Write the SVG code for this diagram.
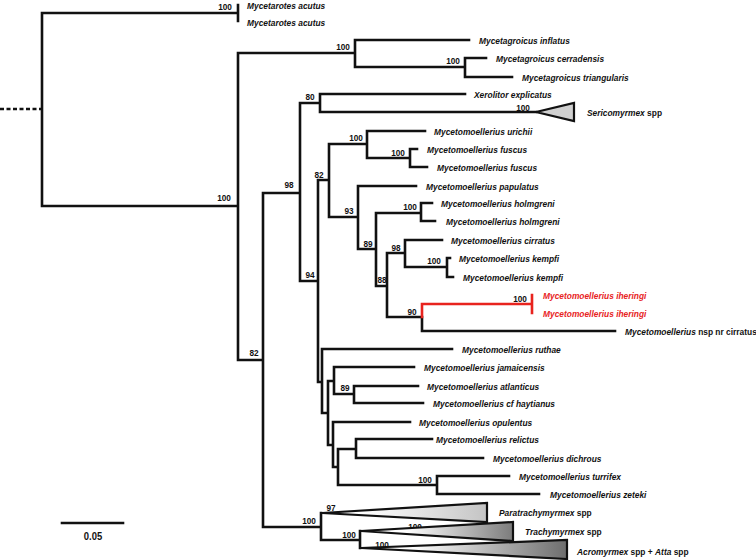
<svg xmlns="http://www.w3.org/2000/svg" width="756" height="560" viewBox="0 0 756 560">
<style>
.br{fill:none;stroke:#111;stroke-width:2.6;stroke-linecap:square}
.red{fill:none;stroke:#e8231e;stroke-width:2.6;stroke-linecap:square}
.dash{fill:none;stroke:#111;stroke-width:2.6;stroke-dasharray:4 2.5}
.tri{stroke:#111;stroke-width:2.2;stroke-linejoin:miter}
.lab{font-family:"Liberation Sans",Arial,sans-serif;font-weight:bold;font-style:italic;font-size:9.6px;fill:#111}
.up{font-style:normal}
.redt{fill:#e8231e}
.sup{font-family:"Liberation Sans",Arial,sans-serif;font-weight:bold;font-size:9.4px;fill:#111;text-anchor:middle}
</style>
<defs>
<linearGradient id="gPara" x1="0" y1="0" x2="1" y2="0"><stop offset="0.25" stop-color="#fff"/><stop offset="1" stop-color="#c4c4c4"/></linearGradient>
<linearGradient id="gTrachy" x1="0" y1="0" x2="1" y2="0"><stop offset="0.3" stop-color="#fff"/><stop offset="1" stop-color="#7c7c7c"/></linearGradient>
<linearGradient id="gAcro" x1="0" y1="0" x2="1" y2="0"><stop offset="0.25" stop-color="#fff"/><stop offset="1" stop-color="#6e6e6e"/></linearGradient>
</defs>
<rect width="756" height="560" fill="#fff"/>

<g id="connectors">
<path class="dash" d="M0 109H42"/>
<path class="br" d="
M42 13V206 M42 13H238 M238 5V21
M42 206H238 M238 53V360
M238 53H355 M355 40V67 M355 40H469 M355 67H465 M465 58V77 M465 58H486 M465 77H512
M238 360H263 M263 193V527
M263 193H300 M300 103V281
M300 103H320 M320 94V112 M320 94H465 M320 112H536
M300 281H318 M318 180V382
M318 180H329 M329 144V217
M329 144H367 M367 131V158 M367 131H425 M367 158H410 M410 149V167 M410 149H417 M410 167H427
M329 217H358 M358 186V249 M358 186H416 M358 249H376 M376 213V286
M376 213H421 M421 203V221 M421 203H432 M421 221H435
M376 286H387 M387 253V317
M387 253H405 M405 240V267 M405 240H442 M405 267H447 M447 258V277 M447 258H450 M447 277H453
M387 317H422 M422 317V331 M422 331H615
M318 382H322 M322 349V413 M322 349H452 M322 413H328 M328 381V445
M328 381H334 M334 367V394 M334 367H414 M334 394H354 M354 386V403 M354 386H418 M354 403H423
M328 445H333 M333 422V467 M333 422H410 M333 467H338 M338 449V485
M338 449H356 M356 439V458 M356 439H432 M356 458H483
M338 485H437 M437 476V494 M437 476H509 M437 494H539
M263 527H321 M321 513V540 M321 540H360 M360 531V548
M62 523H123"/>
<path class="red" d="M422 304V317 M422 304H532 M532 295V313"/>
</g>

<g id="n-root-100"><text class="sup" transform="translate(225 9.5) scale(0.875 1)">100</text></g>
<g id="n-ingroup-100"><text class="sup" transform="translate(224 200.5) scale(0.875 1)">100</text></g>
<g id="n-mycetagroicus-100"><text class="sup" transform="translate(343 49.5) scale(0.875 1)">100</text></g>
<g id="n-cerr-tri-100"><text class="sup" transform="translate(453 63.5) scale(0.875 1)">100</text></g>
<g id="n-82a"><text class="sup" transform="translate(254 355.5) scale(0.875 1)">82</text></g>
<g id="n-98a"><text class="sup" transform="translate(289 187.5) scale(0.875 1)">98</text></g>
<g id="n-80"><text class="sup" transform="translate(310 99.5) scale(0.875 1)">80</text></g>
<g id="n-serico-100"><text class="sup" transform="translate(523 110.5) scale(0.875 1)">100</text></g>
<g id="n-94"><text class="sup" transform="translate(310 277.5) scale(0.875 1)">94</text></g>
<g id="n-82b"><text class="sup" transform="translate(319 177.5) scale(0.875 1)">82</text></g>
<g id="n-urichii-100"><text class="sup" transform="translate(356 140.5) scale(0.875 1)">100</text></g>
<g id="n-fuscus-100"><text class="sup" transform="translate(398 155.5) scale(0.875 1)">100</text></g>
<g id="n-93"><text class="sup" transform="translate(349 213.5) scale(0.875 1)">93</text></g>
<g id="n-holmgreni-100"><text class="sup" transform="translate(410 209.5) scale(0.875 1)">100</text></g>
<g id="n-89a"><text class="sup" transform="translate(368 246.5) scale(0.875 1)">89</text></g>
<g id="n-88"><text class="sup" transform="translate(382 282.5) scale(0.875 1)">88</text></g>
<g id="n-98b"><text class="sup" transform="translate(396 250.5) scale(0.875 1)">98</text></g>
<g id="n-kempfi-100"><text class="sup" transform="translate(434 263.5) scale(0.875 1)">100</text></g>
<g id="n-90"><text class="sup" transform="translate(412 314.5) scale(0.875 1)">90</text></g>
<g id="n-iheringi-100"><text class="sup" transform="translate(520 301.5) scale(0.875 1)">100</text></g>
<g id="n-89b"><text class="sup" transform="translate(345 390.5) scale(0.875 1)">89</text></g>
<g id="n-turrifex-100"><text class="sup" transform="translate(425 482.5) scale(0.875 1)">100</text></g>
<g id="n-attini-100"><text class="sup" transform="translate(309 523.5) scale(0.875 1)">100</text></g>
<g id="n-97"><text class="sup" transform="translate(331 510.5) scale(0.875 1)">97</text></g>
<g id="n-acro-trachy-100"><text class="sup" transform="translate(349 537.5) scale(0.875 1)">100</text></g>
<g id="n-trachy-100"><text class="sup" transform="translate(415 529.5) scale(0.875 1)">100</text></g>
<g id="n-acro-100"><text class="sup" transform="translate(382 547.5) scale(0.875 1)">100</text></g>

<g id="t-mycetarotes-1"><text class="lab" transform="translate(247 9) scale(0.875 1)">Mycetarotes acutus</text></g>
<g id="t-mycetarotes-2"><text class="lab" transform="translate(247 25.5) scale(0.875 1)">Mycetarotes acutus</text></g>
<g id="t-inflatus"><text class="lab" transform="translate(479 43.5) scale(0.875 1)">Mycetagroicus inflatus</text></g>
<g id="t-cerradensis"><text class="lab" transform="translate(496 61.5) scale(0.875 1)">Mycetagroicus cerradensis</text></g>
<g id="t-triangularis"><text class="lab" transform="translate(522 80.5) scale(0.875 1)">Mycetagroicus triangularis</text></g>
<g id="t-xerolitor"><text class="lab" transform="translate(474 97.5) scale(0.875 1)">Xerolitor explicatus</text></g>
<g id="t-sericomyrmex">
<polygon class="tri" points="536,112 574,103 574,121" fill="#d0d0d0"/>
<text class="lab" transform="translate(587 115.5) scale(0.875 1)">Sericomyrmex<tspan class="up"> spp</tspan></text>
</g>
<g id="t-urichii"><text class="lab" transform="translate(434 134.5) scale(0.875 1)">Mycetomoellerius urichii</text></g>
<g id="t-fuscus-1"><text class="lab" transform="translate(427 152.5) scale(0.875 1)">Mycetomoellerius fuscus</text></g>
<g id="t-fuscus-2"><text class="lab" transform="translate(437 170.5) scale(0.875 1)">Mycetomoellerius fuscus</text></g>
<g id="t-papulatus"><text class="lab" transform="translate(426 189.5) scale(0.875 1)">Mycetomoellerius papulatus</text></g>
<g id="t-holmgreni-1"><text class="lab" transform="translate(441 206.5) scale(0.875 1)">Mycetomoellerius holmgreni</text></g>
<g id="t-holmgreni-2"><text class="lab" transform="translate(446 224.5) scale(0.875 1)">Mycetomoellerius holmgreni</text></g>
<g id="t-cirratus"><text class="lab" transform="translate(451 243.5) scale(0.875 1)">Mycetomoellerius cirratus</text></g>
<g id="t-kempfi-1"><text class="lab" transform="translate(459 261.5) scale(0.875 1)">Mycetomoellerius kempfi</text></g>
<g id="t-kempfi-2"><text class="lab" transform="translate(463 280.5) scale(0.875 1)">Mycetomoellerius kempfi</text></g>
<g id="t-iheringi-1"><text class="lab redt" transform="translate(543 298.5) scale(0.875 1)">Mycetomoellerius iheringi</text></g>
<g id="t-iheringi-2"><text class="lab redt" transform="translate(543 316.5) scale(0.875 1)">Mycetomoellerius iheringi</text></g>
<g id="t-nsp"><text class="lab" transform="translate(625 334.5) scale(0.875 1)">Mycetomoellerius<tspan class="up"> nsp nr cirratus</tspan></text></g>
<g id="t-ruthae"><text class="lab" transform="translate(462 352.5) scale(0.875 1)">Mycetomoellerius ruthae</text></g>
<g id="t-jamaicensis"><text class="lab" transform="translate(424 370.5) scale(0.875 1)">Mycetomoellerius jamaicensis</text></g>
<g id="t-atlanticus"><text class="lab" transform="translate(427 389.5) scale(0.875 1)">Mycetomoellerius atlanticus</text></g>
<g id="t-haytianus"><text class="lab" transform="translate(433 406.5) scale(0.875 1)">Mycetomoellerius cf haytianus</text></g>
<g id="t-opulentus"><text class="lab" transform="translate(419 425.5) scale(0.875 1)">Mycetomoellerius opulentus</text></g>
<g id="t-relictus"><text class="lab" transform="translate(436 442.5) scale(0.875 1)">Mycetomoellerius relictus</text></g>
<g id="t-dichrous"><text class="lab" transform="translate(493 461.5) scale(0.875 1)">Mycetomoellerius dichrous</text></g>
<g id="t-turrifex"><text class="lab" transform="translate(519 479.5) scale(0.875 1)">Mycetomoellerius turrifex</text></g>
<g id="t-zeteki"><text class="lab" transform="translate(550 497.5) scale(0.875 1)">Mycetomoellerius zeteki</text></g>
<g id="t-paratrachymyrmex">
<polygon class="tri" points="322,513 487,503 487,522" fill="url(#gPara)"/>
<text class="lab" transform="translate(499 515.5) scale(0.875 1)">Paratrachymyrmex<tspan class="up"> spp</tspan></text>
</g>
<g id="t-trachymyrmex">
<polygon class="tri" points="361,531 513,522 513,541" fill="url(#gTrachy)"/>
<text class="lab" transform="translate(525 534.5) scale(0.875 1)">Trachymyrmex<tspan class="up"> spp</tspan></text>
</g>
<g id="t-acromyrmex-atta">
<polygon class="tri" points="361,548 567,540 567,559" fill="url(#gAcro)"/>
<text class="lab" transform="translate(577 554.5) scale(0.875 1)">Acromyrmex<tspan class="up"> spp + </tspan>Atta<tspan class="up"> spp</tspan></text>
</g>

<g id="scale-bar"><text class="sup" transform="translate(93 539.5) scale(0.9 1)" style="font-size:10.5px">0.05</text></g>
</svg>
